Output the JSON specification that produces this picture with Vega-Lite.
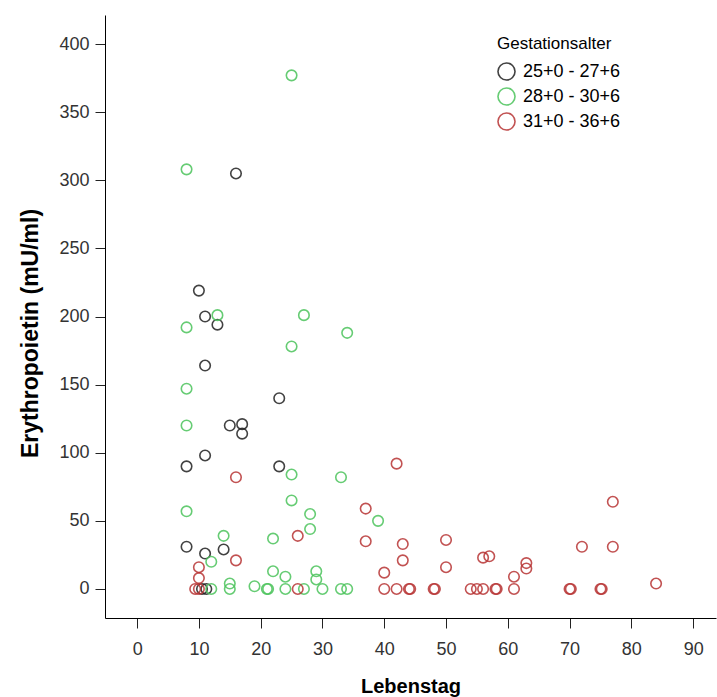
{
  "$schema": "https://vega.github.io/schema/vega-lite/v6.json",
  "autosize": {"type": "none"},
  "padding": {"left": 105, "top": 15, "right": 1, "bottom": 79},
  "width": 611,
  "height": 603,
  "background": "white",
  "config": {"view": {"stroke": null}, "font": "Liberation Sans"},
  "data": {"values": [
    {"tag": 16, "epo": 305, "g": "25+0 - 27+6"},
    {"tag": 10, "epo": 219, "g": "25+0 - 27+6"},
    {"tag": 11, "epo": 200, "g": "25+0 - 27+6"},
    {"tag": 13, "epo": 194, "g": "25+0 - 27+6"},
    {"tag": 11, "epo": 164, "g": "25+0 - 27+6"},
    {"tag": 23, "epo": 140, "g": "25+0 - 27+6"},
    {"tag": 15, "epo": 120, "g": "25+0 - 27+6"},
    {"tag": 17, "epo": 121, "g": "25+0 - 27+6"},
    {"tag": 17, "epo": 114, "g": "25+0 - 27+6"},
    {"tag": 11, "epo": 98, "g": "25+0 - 27+6"},
    {"tag": 8, "epo": 90, "g": "25+0 - 27+6"},
    {"tag": 23, "epo": 90, "g": "25+0 - 27+6"},
    {"tag": 8, "epo": 31, "g": "25+0 - 27+6"},
    {"tag": 11, "epo": 26, "g": "25+0 - 27+6"},
    {"tag": 14, "epo": 29, "g": "25+0 - 27+6"},
    {"tag": 10.5, "epo": 0, "g": "25+0 - 27+6"},
    {"tag": 11.2, "epo": 0, "g": "25+0 - 27+6"},
    {"tag": 25, "epo": 377, "g": "28+0 - 30+6"},
    {"tag": 8, "epo": 308, "g": "28+0 - 30+6"},
    {"tag": 13, "epo": 201, "g": "28+0 - 30+6"},
    {"tag": 27, "epo": 201, "g": "28+0 - 30+6"},
    {"tag": 8, "epo": 192, "g": "28+0 - 30+6"},
    {"tag": 34, "epo": 188, "g": "28+0 - 30+6"},
    {"tag": 25, "epo": 178, "g": "28+0 - 30+6"},
    {"tag": 8, "epo": 147, "g": "28+0 - 30+6"},
    {"tag": 8, "epo": 120, "g": "28+0 - 30+6"},
    {"tag": 25, "epo": 84, "g": "28+0 - 30+6"},
    {"tag": 33, "epo": 82, "g": "28+0 - 30+6"},
    {"tag": 25, "epo": 65, "g": "28+0 - 30+6"},
    {"tag": 8, "epo": 57, "g": "28+0 - 30+6"},
    {"tag": 28, "epo": 55, "g": "28+0 - 30+6"},
    {"tag": 39, "epo": 50, "g": "28+0 - 30+6"},
    {"tag": 28, "epo": 44, "g": "28+0 - 30+6"},
    {"tag": 14, "epo": 39, "g": "28+0 - 30+6"},
    {"tag": 22, "epo": 37, "g": "28+0 - 30+6"},
    {"tag": 12, "epo": 20, "g": "28+0 - 30+6"},
    {"tag": 22, "epo": 13, "g": "28+0 - 30+6"},
    {"tag": 24, "epo": 9, "g": "28+0 - 30+6"},
    {"tag": 29, "epo": 13, "g": "28+0 - 30+6"},
    {"tag": 29, "epo": 7, "g": "28+0 - 30+6"},
    {"tag": 15, "epo": 4, "g": "28+0 - 30+6"},
    {"tag": 19, "epo": 2, "g": "28+0 - 30+6"},
    {"tag": 12, "epo": 0, "g": "28+0 - 30+6"},
    {"tag": 15, "epo": 0, "g": "28+0 - 30+6"},
    {"tag": 21, "epo": 0, "g": "28+0 - 30+6"},
    {"tag": 21.2, "epo": 0, "g": "28+0 - 30+6"},
    {"tag": 24, "epo": 0, "g": "28+0 - 30+6"},
    {"tag": 27, "epo": 0, "g": "28+0 - 30+6"},
    {"tag": 30, "epo": 0, "g": "28+0 - 30+6"},
    {"tag": 33, "epo": 0, "g": "28+0 - 30+6"},
    {"tag": 34, "epo": 0, "g": "28+0 - 30+6"},
    {"tag": 42, "epo": 92, "g": "31+0 - 36+6"},
    {"tag": 16, "epo": 82, "g": "31+0 - 36+6"},
    {"tag": 77, "epo": 64, "g": "31+0 - 36+6"},
    {"tag": 37, "epo": 59, "g": "31+0 - 36+6"},
    {"tag": 26, "epo": 39, "g": "31+0 - 36+6"},
    {"tag": 37, "epo": 35, "g": "31+0 - 36+6"},
    {"tag": 50, "epo": 36, "g": "31+0 - 36+6"},
    {"tag": 43, "epo": 33, "g": "31+0 - 36+6"},
    {"tag": 72, "epo": 31, "g": "31+0 - 36+6"},
    {"tag": 77, "epo": 31, "g": "31+0 - 36+6"},
    {"tag": 56, "epo": 23, "g": "31+0 - 36+6"},
    {"tag": 57, "epo": 24, "g": "31+0 - 36+6"},
    {"tag": 63, "epo": 19, "g": "31+0 - 36+6"},
    {"tag": 63, "epo": 15, "g": "31+0 - 36+6"},
    {"tag": 50, "epo": 16, "g": "31+0 - 36+6"},
    {"tag": 43, "epo": 21, "g": "31+0 - 36+6"},
    {"tag": 40, "epo": 12, "g": "31+0 - 36+6"},
    {"tag": 61, "epo": 9, "g": "31+0 - 36+6"},
    {"tag": 16, "epo": 21, "g": "31+0 - 36+6"},
    {"tag": 10, "epo": 16, "g": "31+0 - 36+6"},
    {"tag": 10, "epo": 8, "g": "31+0 - 36+6"},
    {"tag": 84, "epo": 4, "g": "31+0 - 36+6"},
    {"tag": 9.4, "epo": 0, "g": "31+0 - 36+6"},
    {"tag": 10, "epo": 0, "g": "31+0 - 36+6"},
    {"tag": 26, "epo": 0, "g": "31+0 - 36+6"},
    {"tag": 40, "epo": 0, "g": "31+0 - 36+6"},
    {"tag": 42, "epo": 0, "g": "31+0 - 36+6"},
    {"tag": 44, "epo": 0, "g": "31+0 - 36+6"},
    {"tag": 44.2, "epo": 0, "g": "31+0 - 36+6"},
    {"tag": 48, "epo": 0, "g": "31+0 - 36+6"},
    {"tag": 48.2, "epo": 0, "g": "31+0 - 36+6"},
    {"tag": 54, "epo": 0, "g": "31+0 - 36+6"},
    {"tag": 55, "epo": 0, "g": "31+0 - 36+6"},
    {"tag": 56, "epo": 0, "g": "31+0 - 36+6"},
    {"tag": 58, "epo": 0, "g": "31+0 - 36+6"},
    {"tag": 58.2, "epo": 0, "g": "31+0 - 36+6"},
    {"tag": 61, "epo": 0, "g": "31+0 - 36+6"},
    {"tag": 70, "epo": 0, "g": "31+0 - 36+6"},
    {"tag": 70.2, "epo": 0, "g": "31+0 - 36+6"},
    {"tag": 75, "epo": 0, "g": "31+0 - 36+6"},
    {"tag": 75.2, "epo": 0, "g": "31+0 - 36+6"}
  ]},
  "mark": {"type": "point", "shape": "circle", "filled": false, "size": 110, "strokeWidth": 1.6, "opacity": 0.85},
  "encoding": {
    "x": {
      "field": "tag", "type": "quantitative", "title": "Lebenstag",
      "scale": {"domain": [-5.2, 93.7], "nice": false, "zero": false},
      "axis": {"values": [0, 10, 20, 30, 40, 50, 60, 70, 80, 90], "grid": false, "domainColor": "#000", "tickColor": "#222", "tickSize": 10, "labelFontSize": 18, "labelColor": "#333", "labelPadding": 12, "titleFontSize": 20, "titleFontWeight": "bold", "titleColor": "#000", "titlePadding": 18, "labelFont": "Liberation Sans", "titleFont": "Liberation Sans"}
    },
    "y": {
      "field": "epo", "type": "quantitative", "title": "Erythropoietin (mU/ml)",
      "scale": {"domain": [-21.3, 421.3], "nice": false, "zero": false},
      "axis": {"values": [0, 50, 100, 150, 200, 250, 300, 350, 400], "grid": false, "domainColor": "#000", "tickColor": "#222", "tickSize": 10, "labelFontSize": 18, "labelColor": "#333", "labelPadding": 6, "titleFontSize": 23, "titleFontWeight": "bold", "titleColor": "#000", "titlePadding": 16, "titleY": 318, "labelFont": "Liberation Sans", "titleFont": "Liberation Sans"}
    },
    "color": {
      "field": "g", "type": "nominal", "title": "Gestationsalter",
      "scale": {"domain": ["25+0 - 27+6", "28+0 - 30+6", "31+0 - 36+6"], "range": ["#222222", "#4cc45c", "#b83535"]},
      "legend": {"orient": "none", "legendX": 392, "legendY": 21, "titleFontSize": 17, "titleFontWeight": "normal", "titleColor": "#000", "labelFontSize": 18, "labelColor": "#000", "symbolSize": 290, "symbolStrokeWidth": 1.6, "symbolType": "circle", "rowPadding": 0, "labelOffset": 7, "titlePadding": 9, "labelFont": "Liberation Sans", "titleFont": "Liberation Sans"}
    }
  }
}
